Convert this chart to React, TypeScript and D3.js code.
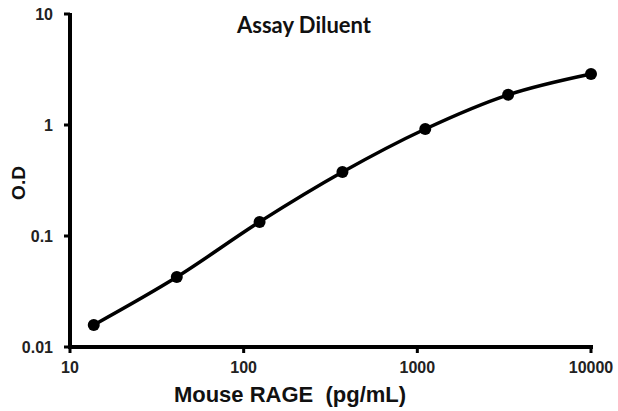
import * as d3 from "d3";
import { useEffect, useRef } from "react";

// Mouse RAGE standard curve (3-fold dilution series)
const concentrations = [13.7, 41.2, 123.5, 370.4, 1111, 3333, 10000];
const odValues = [0.0158, 0.0427, 0.134, 0.377, 0.92, 1.87, 2.88];
const xTicks = [10, 100, 1000, 10000];
const yTicks = [0.01, 0.1, 1, 10];
const yTickLabels = ["0.01", "0.1", "1", "10"];

const App = () => {
    const svgRef = useRef<SVGSVGElement | null>(null);

    useEffect(() => {
        if (!svgRef.current) return;

        const width = 618;
        const height = 411;
        const margin = { top: 14, right: 27, bottom: 64, left: 70 };

        const svg = d3.select(svgRef.current)
            .attr("width", width)
            .attr("height", height)
            .style("background", "#fff")
            .style("display", "block");

        svg.selectAll("*").remove();

        const x = d3.scaleLog()
            .domain([10, 10000])
            .range([margin.left, width - margin.right]);

        const y = d3.scaleLog()
            .domain([0.01, 10])
            .range([height - margin.bottom, margin.top]);

        const data = concentrations.map((c, i) => ({ x: c, y: odValues[i] }));

        const font = "Arial, 'Liberation Sans', sans-serif";
        const x0 = x.range()[0];
        const y0 = y.range()[0];
        const axisW = 4;

        // Axes as filled bars so they come out heavy
        const axes = svg.append("g").attr("fill", "#000");
        axes.append("rect")
            .attr("x", x0 - axisW / 2)
            .attr("y", y.range()[1] - 1)
            .attr("width", axisW)
            .attr("height", y0 - y.range()[1] + 2);
        axes.append("rect")
            .attr("x", x0 - axisW / 2)
            .attr("y", y0 - axisW / 2)
            .attr("width", x.range()[1] - x0 + axisW)
            .attr("height", axisW);

        axes.selectAll(".xtick")
            .data(xTicks)
            .join("rect")
            .attr("x", d => x(d) - 1.5)
            .attr("y", y0)
            .attr("width", 3)
            .attr("height", 6);

        axes.selectAll(".xlabel")
            .data(xTicks)
            .join("text")
            .attr("x", d => x(d))
            .attr("y", y0 + 26)
            .attr("text-anchor", "middle")
            .attr("font-family", font)
            .attr("font-size", 16)
            .attr("font-weight", "bold")
            .attr("fill", "#222")
            .text(d => String(d));

        axes.selectAll(".ytick")
            .data(yTicks)
            .join("rect")
            .attr("x", x0 - 6)
            .attr("y", d => y(d) - 1.5)
            .attr("width", 6)
            .attr("height", 3);

        axes.selectAll(".ylabel")
            .data(yTicks)
            .join("text")
            .attr("x", x0 - 17)
            .attr("y", d => y(d))
            .attr("dy", "0.35em")
            .attr("text-anchor", "end")
            .attr("font-family", font)
            .attr("font-size", 16)
            .attr("font-weight", "bold")
            .attr("fill", "#222")
            .text((_, i) => yTickLabels[i]);

        // Curve
        const line = d3.line<{ x: number; y: number }>()
            .x(d => x(d.x))
            .y(d => y(d.y))
            .curve(d3.curveMonotoneX);

        svg.append("path")
            .datum(data)
            .attr("fill", "none")
            .attr("stroke", "#000")
            .attr("stroke-width", 3.5)
            .attr("d", line);

        svg.append("g")
            .selectAll("circle")
            .data(data)
            .join("circle")
            .attr("cx", d => x(d.x))
            .attr("cy", d => y(d.y))
            .attr("r", 6)
            .attr("fill", "#000");

        // Titles
        svg.append("text")
            .attr("x", 304)
            .attr("y", 33)
            .attr("text-anchor", "middle")
            .attr("font-family", "Lato, 'Open Sans', sans-serif")
            .attr("font-size", 22)
            .attr("font-weight", "bold")
            .attr("fill", "#111")
            .text("Assay Diluent");

        svg.append("text")
            .attr("transform", `translate(25,183) rotate(-90)`)
            .attr("text-anchor", "middle")
            .attr("font-family", font)
            .attr("font-size", 19)
            .attr("font-weight", "bold")
            .attr("fill", "#111")
            .text("O.D");

        svg.append("text")
            .attr("x", 290)
            .attr("y", 402)
            .attr("text-anchor", "middle")
            .attr("font-family", font)
            .attr("font-size", 22)
            .attr("font-weight", "bold")
            .style("white-space", "pre")
            .attr("fill", "#111")
            .text("Mouse RAGE  (pg/mL)");
    }, []);

    return (
        <div style={{ position: "absolute", left: 0, top: 0 }}>
            <svg ref={svgRef}></svg>
        </div>
    );
};

export default App;
